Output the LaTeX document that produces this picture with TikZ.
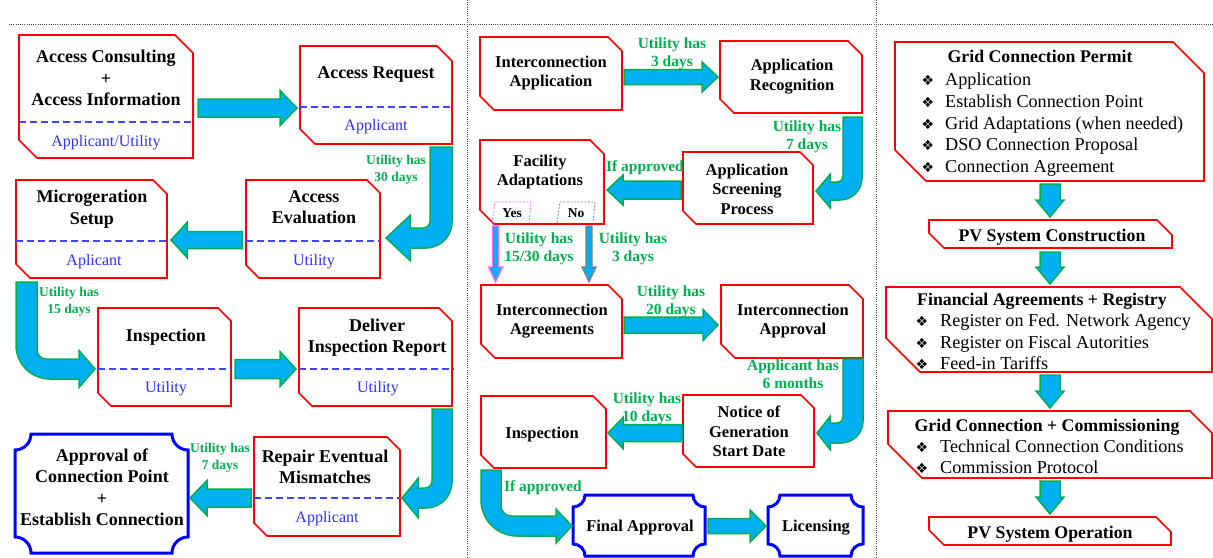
\documentclass[tikz,border=0pt]{standalone}
\usepackage{fontspec}
\setmainfont{Liberation Serif}
\newfontfamily\symfont{DejaVu Sans}
\usetikzlibrary{calc,fit}
\definecolor{fillcyan}{HTML}{00B0F0}
\definecolor{edgegreen}{HTML}{00B050}
\definecolor{lblgreen}{HTML}{00B050}
\definecolor{subblue}{HTML}{2F2FFF}
\definecolor{dashblue}{HTML}{4444FF}
\definecolor{boxred}{HTML}{FF0000}
\definecolor{scrollblue}{HTML}{0000FF}
\definecolor{yespink}{HTML}{FF66FF}
\definecolor{sepgray}{HTML}{404040}

\tikzset{
  redbox/.style={draw=boxred, line width=1.6pt, line join=miter},
  bluebox/.style={draw=scrollblue, line width=3pt},
  fat/.style={fill=fillcyan, draw=edgegreen, line width=1.5pt, line join=miter},
  fatpink/.style={fill=fillcyan, draw=yespink, line width=1.3pt},
  fatgray/.style={fill=fillcyan, draw=gray, line width=1.3pt},
  dashline/.style={draw=dashblue, line width=1.2pt, dash pattern=on 7pt off 4pt},
  sepline/.style={draw=sepgray, line width=0.8pt, dash pattern=on 1pt off 1.2pt},
  ttlL/.style={font=\bfseries\fontsize{18}{21.5}\selectfont, align=center, inner sep=0pt},
  ttlM/.style={font=\bfseries\fontsize{16.5}{19.5}\selectfont, align=center, inner sep=0pt},
  ttlR/.style={font=\bfseries\fontsize{17.8}{21}\selectfont, inner sep=0pt},
  subt/.style={font=\fontsize{16}{19}\selectfont, text=subblue, inner sep=0pt},
  glL/.style={font=\bfseries\fontsize{13.5}{16.5}\selectfont, text=lblgreen, align=center, inner sep=0pt},
  glM/.style={font=\bfseries\fontsize{15.5}{18}\selectfont, text=lblgreen, align=center, inner sep=0pt},
  itm/.style={font=\fontsize{18.2}{21.5}\selectfont, inner sep=0pt, anchor=base west},
  bul/.style={font=\symfont\fontsize{14}{15}\selectfont, inner sep=0pt, anchor=base},
  yn/.style={font=\bfseries\fontsize{13.5}{15}\selectfont, inner sep=0pt},
}

% snipped box: name, x1, y1, x2, y2 (image px, y down), top-right snip, bottom-left snip
\newcommand\snipnode[7]{%
  \path (#2,-#3) coordinate (#1-nw) (#4,-#5) coordinate (#1-se);
  \node[inner sep=0pt, outer sep=0pt, fit=(#1-nw)(#1-se)] (#1) {};
  \draw[redbox] (#1.north west) -- ([xshift=-#6pt]#1.north east) -- ([yshift=-#6pt]#1.north east)
     -- (#1.south east) -- ([xshift=#7pt]#1.south west) -- ([yshift=#7pt]#1.south west) -- cycle;}

% scroll box with concave corners: name, x1, y1, x2, y2, radius
\newcommand\scrollnode[6]{%
  \path (#2,-#3) coordinate (#1-nw) (#4,-#5) coordinate (#1-se);
  \node[inner sep=0pt, outer sep=0pt, fit=(#1-nw)(#1-se)] (#1) {};
  \draw[bluebox] ([yshift=-#6pt]#1.north west) arc[start angle=-90,end angle=0,radius=#6pt]
     -- ([xshift=-#6pt]#1.north east) arc[start angle=180,end angle=270,radius=#6pt]
     -- ([yshift=#6pt]#1.south east) arc[start angle=90,end angle=180,radius=#6pt]
     -- ([xshift=#6pt]#1.south west) arc[start angle=0,end angle=90,radius=#6pt] -- cycle;}

% straight block arrow: [style], name, from, to, shaft half, head half, head length
\newcommand\fatarrow[7][fat]{%
  \coordinate (#2-s) at #3; \coordinate (#2-e) at #4;
  \path let \p1=(#2-s), \p2=(#2-e) in \pgfextra{%
     \pgfmathsetmacro\fatang{atan2(\y2-\y1,\x2-\x1)}%
     \pgfmathsetmacro\fatlen{veclen(\x2-\x1,\y2-\y1)}%
     \global\let\fatangG\fatang \global\let\fatlenG\fatlen};
  \begin{scope}[shift={(#2-s)},rotate=\fatangG]
    \draw[#1] (0,-#5) -- ({\fatlenG-#7},-#5) -- ({\fatlenG-#7},-#6) -- (\fatlenG,0)
       -- ({\fatlenG-#7},#6) -- ({\fatlenG-#7},#5) -- (0,#5) -- cycle;
  \end{scope}}

\def\bentr{7}
% bent arrow down then left: x1,x2,ytop,yh1,yh2,hbase,tip,headhalf,Router
\newcommand\bentDL[9]{%
  \draw[fat] (#1,-#3) -- (#2,-#3) -- (#2,{-#5+#9}) arc[start angle=0,end angle=-90,radius=#9pt]
    -- (#6,-#5) -- (#6,{-(#4+#5)/2-#8}) -- (#7,{-(#4+#5)/2}) -- (#6,{-(#4+#5)/2+#8})
    -- (#6,-#4) -- ({#1-\bentr},-#4) arc[start angle=-90,end angle=0,radius=\bentr pt] -- cycle;}
% bent arrow down then right
\newcommand\bentDR[9]{%
  \draw[fat] (#1,-#3) -- (#2,-#3) -- (#2,{-#4+\bentr}) arc[start angle=180,end angle=270,radius=\bentr pt]
    -- (#6,-#4) -- (#6,{-(#4+#5)/2+#8}) -- (#7,{-(#4+#5)/2}) -- (#6,{-(#4+#5)/2-#8})
    -- (#6,-#5) -- ({#1+#9},-#5) arc[start angle=270,end angle=180,radius=#9pt] -- cycle;}

\begin{document}
\begin{tikzpicture}[x=1pt,y=1pt]
\useasboundingbox (0,0) rectangle (1213,-557);

% separators
\coordinate (sh0) at (9,-24); \coordinate (sh1) at (1213,-24);
\coordinate (sv0) at (467,0); \coordinate (sv1) at (467,-557);
\coordinate (sw0) at (876,0); \coordinate (sw1) at (876,-557);
\draw[sepline] (sh0) -- (sh1);
\draw[sepline] (sv0) -- (sv1);
\draw[sepline] (sw0) -- (sw1);

% ================= LEFT PANEL =================
\snipnode{A}{19}{35}{193}{158}{18}{18}
\draw[dashline] (A.west |- 0,-122) -- (A.east |- 0,-122);
\node[ttlL] (A-t) at (106,-78) {Access Consulting\\+\\Access Information};
\node[subt] (A-s) at (106,-142.5) {Applicant/Utility};

\snipnode{B}{300}{46}{452}{144}{15}{15}
\draw[dashline] (B.west |- 0,-107) -- ([xshift=2pt]B.east |- 0,-107);
\node[ttlL] (B-t) at (376,-74.5) {Access Request};
\node[subt] (B-s) at (376,-127) {Applicant};

\snipnode{C}{246}{180}{380}{278}{13}{13}
\draw[dashline] (C.west |- 0,-241) -- (C.east |- 0,-241);
\node[ttlL] (C-t) at (314,-207) {Access\\Evaluation};
\node[subt] (C-s) at (314,-261.5) {Utility};

\snipnode{D}{16}{180}{167}{278}{14}{14}
\draw[dashline] (D.west |- 0,-241) -- ([xshift=3pt]D.east |- 0,-241);
\node[ttlL] (D-t) at (92,-209) {Microgeration\\Setup};
\node[subt] (D-s) at (94,-261.5) {Aplicant};

\snipnode{E}{98}{308}{231}{406}{13}{13}
\draw[dashline] (E.west |- 0,-369) -- (E.east |- 0,-369);
\node[ttlL] (E-t) at (166,-337.5) {Inspection};
\node[subt] (E-s) at (166,-389) {Utility};

\snipnode{F}{299}{308}{452}{406}{13}{13}
\draw[dashline] (F.west |- 0,-369) -- ([xshift=2pt]F.east |- 0,-369);
\node[ttlL] (F-t) at (377,-337.5) {Deliver\\Inspection Report};
\node[subt] (F-s) at (378,-389) {Utility};

\snipnode{G}{254}{437}{400}{536}{13}{13}
\draw[dashline] (G.west |- 0,-498) -- (G.east |- 0,-498);
\node[ttlL] (G-t) at (325,-467) {Repair Eventual\\Mismatches};
\node[subt] (G-s) at (327,-519) {Applicant};

\scrollnode{H}{15}{434}{188}{553}{16}
\node[ttlL] (H-t) at (102,-487) {Approval of\\Connection Point\\+\\Establish Connection};

% left arrows
\fatarrow{ab}{(198,-108)}{(297,-108)}{9}{17.5}{17}
\fatarrow{cd}{(242,-240)}{(171,-240)}{8.5}{17.5}{16}
\fatarrow{ef}{(235,-369)}{(296,-369)}{9.5}{17.5}{16}
\fatarrow{gh}{(251,-498)}{(190,-498)}{9}{17.5}{17}
\def\bentr{7}
\bentDL{430}{452}{147}{228}{248}{410}{386}{22.5}{26}
\bentDL{432}{452}{409}{488}{508}{418}{402}{19.5}{26}
\def\bentr{9}
\bentDR{16}{37}{282}{359}{379}{79}{95}{18.5}{34}

\node[glL] (l30) at (396,-170) {Utility has\\30 days};
\node[glL] (l15) at (69,-301.7) {Utility has\\15 days};
\node[glL] (l7) at (220,-458) {Utility has\\7 days};

% ================= MIDDLE PANEL =================
\snipnode{I}{480}{37}{622}{110}{14}{14}
\node[ttlM] (I-t) at (551,-73) {Interconnection\\Application};
\snipnode{J}{720}{41}{862}{113}{14}{14}
\node[ttlM] (J-t) at (792,-76.5) {Application\\Recognition};
\snipnode{K}{683}{152}{813}{224}{13}{13}
\node[ttlM] (K-t) at (747,-189) {Application\\Screening\\Process};
\snipnode{L}{480}{140}{604}{224}{14}{14}
\node[ttlM] (L-t) at (540,-172) {Facility\\Adaptations};
\draw[draw=yespink, line width=0.8pt, dash pattern=on 2pt off 1.5pt] (492,-223) -- (495,-202) -- (531,-202) -- (529,-223);
\draw[draw=gray, line width=0.8pt, dash pattern=on 2pt off 1.5pt] (557,-223) -- (560,-202) -- (595,-202) -- (593,-223);
\node[yn] (yes) at (512,-213) {Yes};
\node[yn] (no) at (576,-213) {No};

\snipnode{M}{481}{285}{622}{358}{14}{14}
\node[ttlM] (M-t) at (552,-321) {Interconnection\\Agreements};
\snipnode{N}{721}{285}{863}{358}{14}{14}
\node[ttlM] (N-t) at (793,-321) {Interconnection\\Approval};
\snipnode{O}{683}{395}{814}{467}{13}{13}
\node[ttlM] (O-t) at (749,-431.7) {Notice of\\Generation\\Start Date};
\snipnode{P}{481}{396}{606}{468}{13}{13}
\node[ttlM] (P-t) at (542,-434.3) {Inspection};
\scrollnode{Q}{573}{495}{705}{556}{12}
\node[ttlM] (Q-t) at (640,-527.5) {Final Approval};
\scrollnode{R}{768}{495}{863}{556}{12}
\node[ttlM] (R-t) at (816,-527.5) {Licensing};

% middle arrows
\fatarrow{ij}{(624,-77)}{(718,-77)}{7.5}{15}{16}
\fatarrow{kl}{(681,-190)}{(607,-190)}{9}{15}{16}
\fatarrow{mn}{(624,-325)}{(718,-325)}{8}{15.5}{15}
\fatarrow{op}{(682,-433)}{(608,-433)}{8.5}{15.5}{15}
\fatarrow{qr}{(708,-526)}{(766,-526)}{7.5}{16}{16}
\fatarrow[fatpink]{ym}{(495.5,-226)}{(495.5,-282)}{3}{7}{15}
\fatarrow[fatgray]{nm}{(589,-226)}{(589,-282)}{3}{7}{15}
\def\bentr{6}
\bentDL{843}{862}{117}{182}{200}{830}{816}{16.5}{22}
\bentDL{843}{863}{359}{423}{443}{830}{817}{16.5}{22}
\def\bentr{10}
\bentDR{481}{501}{470}{516}{536}{556}{572}{17}{36}

\node[glM] (m3) at (672,-54) {Utility has\\3 days};
\node[glM] (m7) at (807,-136.6) {Utility has\\7 days};
\node[glM] (mia) at (645,-167.6) {If approved};
\node[glM] (m1530) at (539,-248.4) {Utility has\\15/30 days};
\node[glM] (m3b) at (633,-248.4) {Utility has\\3 days};
\node[glM] (m20) at (671,-301.5) {Utility has\\20 days};
\node[glM] (m6) at (793,-374.4) {Applicant has\\6 months};
\node[glM] (m10) at (647,-409) {Utility has\\10 days};
\node[glM] (mib) at (543,-488) {If approved};

% ================= RIGHT PANEL =================
\snipnode{S}{895}{42}{1204}{181}{31}{31}
\node[ttlR] (S-t) at (1040,-56.5) {Grid Connection Permit};
\foreach \yy/\tt [count=\k] in {85/Application,107/Establish Connection Point,129/Grid Adaptations (when needed),150/DSO Connection Proposal,172/Connection Agreement}{
  \node[bul] (S-b\k) at (928,-\yy) {❖};
  \node[itm] (S-i\k) at (945,-\yy) {\tt};
}
\snipnode{T}{929}{220}{1172}{248}{15}{15}
\node[ttlR] (T-t) at (1052,-237) {PV System Construction};

\snipnode{U}{886}{287}{1212}{372}{32}{34}
\node[ttlR] (U-t) at (1042,-301) {Financial Agreements + Registry};
\foreach \yy/\tt [count=\k] in {326/Register on Fed. Network Agency,348/Register on Fiscal Autorities,369/Feed-in Tariffs}{
  \node[bul] (U-b\k) at (922,-\yy) {❖};
  \node[itm] (U-i\k) at (940,-\yy) {\tt};
}
\snipnode{V}{888}{411}{1212}{478}{22}{34}
\node[ttlR] (V-t) at (1047,-427.5) {Grid Connection + Commissioning};
\foreach \yy/\tt [count=\k] in {452/Technical Connection Conditions,473/Commission Protocol}{
  \node[bul] (V-b\k) at (922,-\yy) {❖};
  \node[itm] (V-i\k) at (940,-\yy) {\tt};
}
\snipnode{W}{929}{517}{1171}{545}{15}{15}
\node[ttlR] (W-t) at (1050,-534) {PV System Operation};

\fatarrow{st}{(1050,-184)}{(1050,-217)}{10}{14}{17}
\fatarrow{tu}{(1050,-252)}{(1050,-284)}{10}{14}{17}
\fatarrow{uv}{(1050,-375)}{(1050,-408)}{10}{14}{17}
\fatarrow{vw}{(1050,-481)}{(1050,-514)}{10}{14}{17}
\end{tikzpicture}
\end{document}
